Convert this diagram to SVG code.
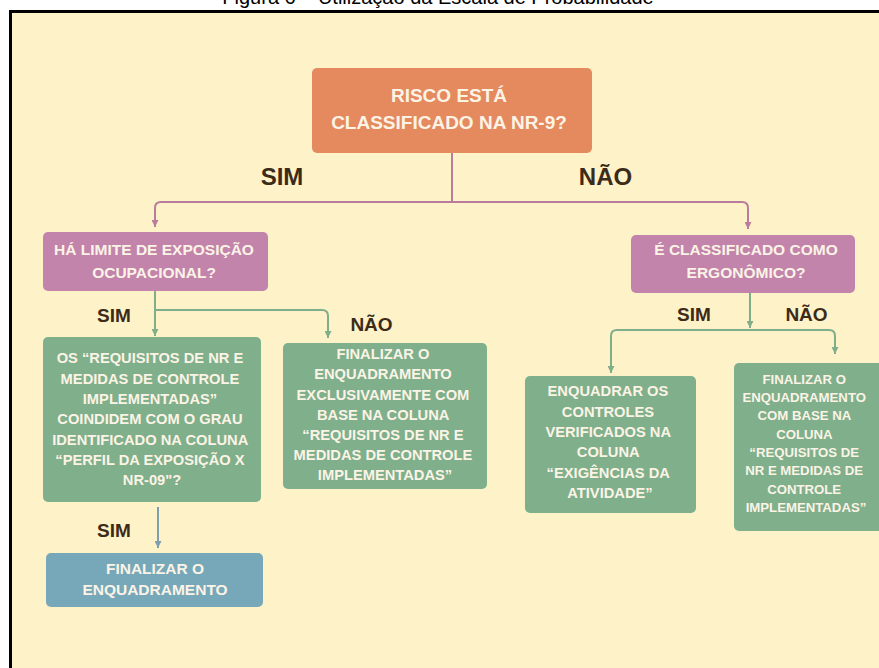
<svg xmlns="http://www.w3.org/2000/svg" width="879" height="668" viewBox="0 0 879 668">
<defs>
<style>
.t{font-family:"Liberation Sans",Arial,sans-serif;font-weight:bold;fill:#FBF4E6;text-anchor:middle}
.lbl{font-family:"Liberation Sans",Arial,sans-serif;font-weight:bold;fill:#3B2B18;text-anchor:middle}
.cm{fill:none;stroke:#B97C9C;stroke-width:2}
.cg{fill:none;stroke:#7FAF8A;stroke-width:2}
.cb{fill:none;stroke:#7F9FB0;stroke-width:2}
</style>
<marker id="am" markerWidth="7" markerHeight="7" refX="7" refY="3.5" orient="auto" markerUnits="userSpaceOnUse"><path d="M0,0 L7,3.5 L0,7 z" fill="#B97C9C"/></marker>
<marker id="ag" markerWidth="7" markerHeight="7" refX="7" refY="3.5" orient="auto" markerUnits="userSpaceOnUse"><path d="M0,0 L7,3.5 L0,7 z" fill="#7FAF8A"/></marker>
<marker id="ab" markerWidth="7" markerHeight="7" refX="7" refY="3.5" orient="auto" markerUnits="userSpaceOnUse"><path d="M0,0 L7,3.5 L0,7 z" fill="#7F9FB0"/></marker>
</defs>
<rect width="879" height="668" fill="#FFFFFF"/>
<text x="438" y="4" font-family="Liberation Sans, Arial, sans-serif" font-size="20" fill="#000" text-anchor="middle">Figura 6 – Utilização da Escala de Probabilidade</text>
<rect x="10.5" y="11.5" width="900" height="700" fill="#FEF2C8" stroke="#000" stroke-width="3"/>

<g id="connectors">
<path class="cm" d="M452,153 V202"/>
<path class="cm" d="M452,202 H161 Q155,202 155,208 V227" marker-end="url(#am)"/>
<path class="cm" d="M452,202 H742 Q748,202 748,208 V229" marker-end="url(#am)"/>
<path class="cg" d="M155,291 V336" marker-end="url(#ag)"/>
<path class="cg" d="M155,310 H322 Q328,310 328,316 V338" marker-end="url(#ag)"/>
<path class="cb" d="M158,507 V548" marker-end="url(#ab)"/>
<path class="cg" d="M750,293 V328" marker-end="url(#ag)"/>
<path class="cg" d="M750,330 H617 Q611,330 611,336 V373" marker-end="url(#ag)"/>
<path class="cg" d="M720,330 H829 Q835,330 835,336 V354" marker-end="url(#ag)"/>
</g>

<g id="labels">
<text class="lbl" x="282" y="185" font-size="24">SIM</text>
<text class="lbl" x="605.5" y="185" font-size="24">NÃO</text>
<text class="lbl" x="114" y="322" font-size="19">SIM</text>
<text class="lbl" x="371.5" y="331" font-size="19">NÃO</text>
<text class="lbl" x="114" y="537" font-size="19">SIM</text>
<text class="lbl" x="694" y="321" font-size="19">SIM</text>
<text class="lbl" x="806.5" y="321" font-size="19">NÃO</text>
</g>

<g id="root">
<rect x="312" y="68" width="280" height="85" rx="5" fill="#E5895F"/>
<text class="t" font-size="19"><tspan x="449" y="102">RISCO ESTÁ</tspan><tspan x="449" y="129">CLASSIFICADO NA NR-9?</tspan></text>
</g>

<g id="limite">
<rect x="43" y="232" width="225" height="59" rx="5" fill="#C384AC"/>
<text class="t" font-size="15.5"><tspan x="154" y="255">HÁ LIMITE DE EXPOSIÇÃO</tspan><tspan x="154" y="278">OCUPACIONAL?</tspan></text>
</g>

<g id="ergonomico">
<rect x="631" y="235" width="224" height="58" rx="5" fill="#C384AC"/>
<text class="t" font-size="15.5"><tspan x="746" y="255">É CLASSIFICADO COMO</tspan><tspan x="746" y="278">ERGONÔMICO?</tspan></text>
</g>

<g id="coincidem">
<rect x="43" y="337" width="218" height="165" rx="5" fill="#80AF8B"/>
<text class="t" font-size="14.7">
<tspan x="152" y="363.4">OS “REQUISITOS DE NR E</tspan>
<tspan x="152" y="383.7">MEDIDAS DE CONTROLE</tspan>
<tspan x="152" y="404">IMPLEMENTADAS”</tspan>
<tspan x="152" y="424.3">COINDIDEM COM O GRAU</tspan>
<tspan x="152" y="444.6">IDENTIFICADO NA COLUNA</tspan>
<tspan x="152" y="464.9">“PERFIL DA EXPOSIÇÃO X</tspan>
<tspan x="152" y="485.2">NR-09"?</tspan>
</text>
</g>

<g id="exclusivamente">
<rect x="283" y="343" width="204" height="146" rx="5" fill="#80AF8B"/>
<text class="t" font-size="14.7">
<tspan x="385" y="359.2">FINALIZAR O</tspan>
<tspan x="385" y="379.4">ENQUADRAMENTO</tspan>
<tspan x="385" y="399.5">EXCLUSIVAMENTE COM</tspan>
<tspan x="385" y="419.7">BASE NA COLUNA</tspan>
<tspan x="385" y="439.9">“REQUISITOS DE NR E</tspan>
<tspan x="385" y="460">MEDIDAS DE CONTROLE</tspan>
<tspan x="385" y="480.2">IMPLEMENTADAS”</tspan>
</text>
</g>

<g id="finalizar">
<rect x="46" y="553" width="217" height="54" rx="5" fill="#77A8BA"/>
<text class="t" font-size="15.5"><tspan x="155" y="573.5">FINALIZAR O</tspan><tspan x="155" y="594.5">ENQUADRAMENTO</tspan></text>
</g>

<g id="exigencias">
<rect x="525" y="376" width="171" height="137" rx="5" fill="#80AF8B"/>
<text class="t" font-size="14.7">
<tspan x="610" y="396.2">ENQUADRAR OS</tspan>
<tspan x="610" y="416.6">CONTROLES</tspan>
<tspan x="610" y="437">VERIFICADOS NA</tspan>
<tspan x="610" y="457.4">COLUNA</tspan>
<tspan x="610" y="477.8">“EXIGÊNCIAS DA</tspan>
<tspan x="610" y="498.2">ATIVIDADE”</tspan>
</text>
</g>

<g id="requisitos">
<rect x="734" y="363" width="150" height="168" rx="5" fill="#80AF8B"/>
<text class="t" font-size="13.2">
<tspan x="806" y="383.7">FINALIZAR O</tspan>
<tspan x="806" y="402">ENQUADRAMENTO</tspan>
<tspan x="806" y="420.3">COM BASE NA</tspan>
<tspan x="806" y="438.6">COLUNA</tspan>
<tspan x="806" y="456.9">“REQUISITOS DE</tspan>
<tspan x="806" y="475.2">NR E MEDIDAS DE</tspan>
<tspan x="806" y="493.5">CONTROLE</tspan>
<tspan x="806" y="511.8">IMPLEMENTADAS”</tspan>
</text>
</g>
</svg>
